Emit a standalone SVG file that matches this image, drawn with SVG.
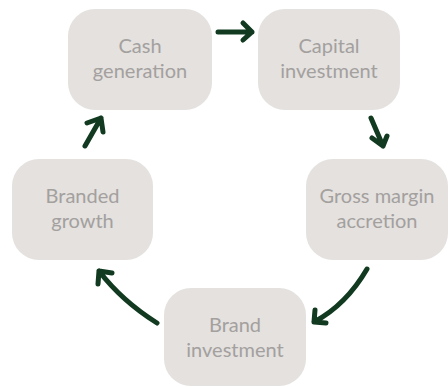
<svg xmlns="http://www.w3.org/2000/svg" width="448" height="387" viewBox="0 0 448 387">
  <style>
    .box { fill: #e4e1df; }
    .lbl { font-family: "Lato", "Open Sans", "Liberation Sans", sans-serif; font-size: 20px; fill: #a3a09e; text-anchor: middle; }
    .arr { fill: none; stroke: #113a20; stroke-width: 5; stroke-linecap: round; stroke-linejoin: round; }
  </style>
  <rect width="448" height="387" fill="#ffffff"/>

  <g id="cash-generation">
    <rect class="box" x="68" y="9" width="144" height="101" rx="27"/>
    <text class="lbl" x="140" y="53">Cash</text>
    <text class="lbl" x="140" y="78">generation</text>
  </g>
  <g id="capital-investment">
    <rect class="box" x="258" y="9" width="142" height="101" rx="27"/>
    <text class="lbl" x="329" y="53">Capital</text>
    <text class="lbl" x="329" y="78">investment</text>
  </g>
  <g id="gross-margin-accretion">
    <rect class="box" x="306" y="159" width="142" height="101" rx="27"/>
    <text class="lbl" x="377" y="203">Gross margin</text>
    <text class="lbl" x="377" y="228">accretion</text>
  </g>
  <g id="brand-investment">
    <rect class="box" x="164" y="288" width="142" height="98" rx="27"/>
    <text class="lbl" x="235" y="332">Brand</text>
    <text class="lbl" x="235" y="357">investment</text>
  </g>
  <g id="branded-growth">
    <rect class="box" x="12" y="159" width="141" height="101" rx="27"/>
    <text class="lbl" x="82.5" y="203">Branded</text>
    <text class="lbl" x="82.5" y="228">growth</text>
  </g>

  <g id="connectors">
    <!-- cash generation to capital investment -->
    <path class="arr" d="M218 32 L252 32 M243 23 L252 32 L243 40"/>
    <!-- capital investment to gross margin accretion -->
    <path class="arr" d="M371 118 L383 146 M372 138 L383 146 L387 136"/>
    <!-- gross margin accretion to brand investment -->
    <path class="arr" d="M367 269 Q346 305 314 322 M315 310 L314 322 L326 323"/>
    <!-- brand investment to branded growth -->
    <path class="arr" d="M157 323 Q122 301 99 271 M98 284 L99 271 L112 273"/>
    <!-- branded growth to cash generation -->
    <path class="arr" d="M85 146 L101 118 M87 123 L101 118 L103 132"/>
  </g>
</svg>
